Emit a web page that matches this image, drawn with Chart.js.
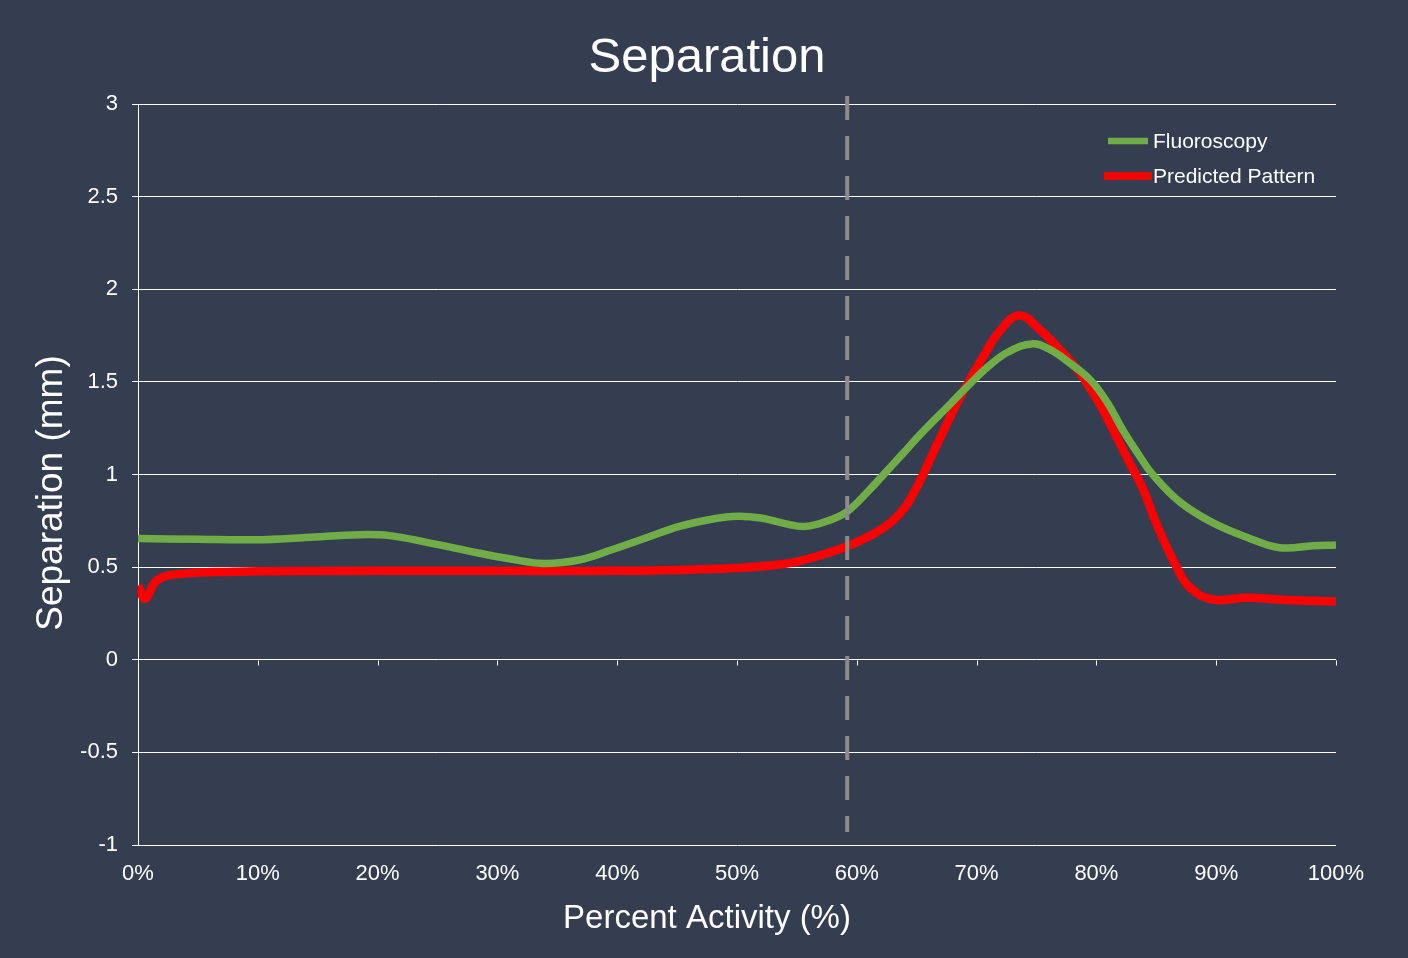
<!DOCTYPE html>
<html><head><meta charset="utf-8">
<script src="https://cdn.jsdelivr.net/npm/chart.js@4/dist/chart.umd.min.js"></script>
<style>html,body{margin:0;padding:0;background:#343e50;}canvas{display:block;}</style>
</head><body>
<canvas id="c" width="1408" height="958"></canvas>
<script>
const chartTitle = "Separation";
const xTitle = "Percent Activity (%)";
const yTitle = "Separation (mm)";
const seriesNames = ["Fluoroscopy", "Predicted Pattern"];
const markerX = 59.2;

const fluoroX = [0,5,10,14,18.5,21,24,28.5,31,33.8,36.9,39.6,42.5,45.2,48,50,52,54,55.7,57.8,59.2,61.1,62.1,63.8,65.5,67.8,69.3,71.1,72.6,74.6,76.1,77.8,79.5,80.9,82.2,83.6,84.7,87,89.7,92.6,95.3,98.1,100];
const fluoroY = [0.655,0.65,0.648,0.66,0.675,0.67,0.635,0.575,0.545,0.52,0.54,0.595,0.66,0.72,0.76,0.775,0.765,0.735,0.72,0.755,0.80,0.92,0.99,1.11,1.23,1.38,1.48,1.59,1.66,1.705,1.675,1.60,1.51,1.39,1.24,1.10,1.0,0.85,0.74,0.66,0.605,0.615,0.62];

const predX = [0,0.6,1.6,3.8,8,10,20,30,40,45,50,53,55,57.8,60.5,62.8,64.4,66.9,68.4,70.5,72,73.6,75.3,77,78.6,80.1,81.4,82.8,83.9,85.1,86.7,87.8,89.7,92.6,95.3,97,100];
const predY = [0.40,0.33,0.43,0.465,0.475,0.478,0.48,0.48,0.48,0.485,0.495,0.51,0.53,0.58,0.65,0.74,0.86,1.19,1.39,1.63,1.78,1.86,1.78,1.67,1.55,1.40,1.24,1.06,0.92,0.72,0.50,0.39,0.325,0.335,0.325,0.32,0.315];

const FONT = "'Liberation Sans', Arial, sans-serif";
const toPts = (xs, ys) => xs.map((x, i) => ({x: x, y: ys[i]}));

const decor = {
  id: 'decor',
  beforeDraw(chart) {
    const ctx = chart.ctx;
    ctx.save();
    ctx.fillStyle = '#343e50';
    ctx.fillRect(0, 0, chart.width, chart.height);
    ctx.restore();
  },
  afterDatasetsDraw(chart) {
    const ctx = chart.ctx, xs = chart.scales.x, ys = chart.scales.y;
    ctx.save();
    ctx.strokeStyle = '#ffffff'; ctx.lineWidth = 1;
    const y0 = Math.round(ys.getPixelForValue(0)) + 0.5;
    for (let v = 10; v <= 100; v += 10) {
      const px = Math.round(xs.getPixelForValue(v)) + 0.5;
      ctx.beginPath(); ctx.moveTo(px, y0); ctx.lineTo(px, y0 + 5); ctx.stroke();
    }
    const mx = xs.getPixelForValue(markerX);
    ctx.strokeStyle = '#8c8c8c'; ctx.lineWidth = 4; ctx.setLineDash([24, 16]);
    ctx.beginPath(); ctx.moveTo(mx, chart.chartArea.top - 8); ctx.lineTo(mx, chart.chartArea.bottom - 13); ctx.stroke();
    ctx.setLineDash([]);
    const items = chart.data.datasets;
    const lx0 = [1108, 1104], lx1 = [1148, 1152], ly = [141, 176];
    ctx.font = '21px ' + FONT; ctx.textBaseline = 'middle'; ctx.textAlign = 'left';
    items.forEach((d, i) => {
      ctx.strokeStyle = d.borderColor; ctx.lineWidth = d.borderWidth - 1; ctx.lineCap = 'butt';
      ctx.beginPath(); ctx.moveTo(lx0[i], ly[i]); ctx.lineTo(lx1[i], ly[i]); ctx.stroke();
      ctx.fillStyle = '#ffffff';
      ctx.fillText(d.label, 1153, ly[i] + 1);
    });
    ctx.fillStyle = '#ffffff'; ctx.textAlign = 'center'; ctx.textBaseline = 'alphabetic';
    ctx.font = '49px ' + FONT;
    ctx.fillText(chartTitle, 707, 72);
    ctx.font = '33px ' + FONT;
    ctx.fillText(xTitle, 707, 928);
    ctx.save();
    ctx.translate(62, 493); ctx.rotate(-Math.PI / 2);
    ctx.font = '37px ' + FONT;
    ctx.fillText(yTitle, 0, 0);
    ctx.restore();
    ctx.restore();
  }
};

new Chart(document.getElementById('c'), {
  type: 'line',
  data: {
    datasets: [
      {label: seriesNames[0], data: toPts(fluoroX, fluoroY), borderColor: '#70ad47', borderWidth: 7.5, pointRadius: 0, tension: 0.4, fill: false},
      {label: seriesNames[1], data: toPts(predX, predY), borderColor: '#ff0000', borderWidth: 8.5, pointRadius: 0, tension: 0.4, fill: false}
    ]
  },
  options: {
    responsive: false,
    animation: false,
    layout: {padding: {top: 104, right: 72, bottom: 0, left: 0}},
    plugins: {legend: {display: false}, title: {display: false}, tooltip: {enabled: false}},
    scales: {
      x: {
        type: 'linear', min: 0, max: 100,
        afterFit(s) { s.height = 113; },
        grid: {display: false},
        border: {display: false},
        ticks: {stepSize: 10, color: '#ffffff', font: {family: FONT, size: 22}, padding: 8, maxRotation: 0,
                callback: v => v + '%'}
      },
      y: {
        min: -1, max: 3,
        afterFit(s) { s.width = 138; },
        grid: {color: '#ffffff', lineWidth: 1, tickLength: 6, tickColor: '#ffffff'},
        border: {display: true, color: '#ffffff', width: 1},
        ticks: {stepSize: 0.5, color: '#ffffff', font: {family: FONT, size: 22}, padding: 14,
                callback: v => String(Math.round(v * 10) / 10)}
      }
    }
  },
  plugins: [decor]
});
</script>
</body></html>
